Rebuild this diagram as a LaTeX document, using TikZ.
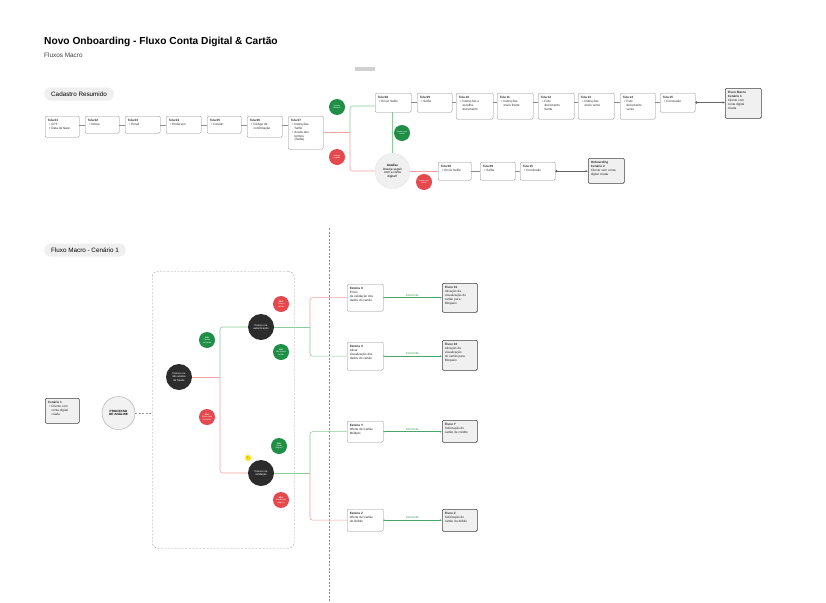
\documentclass[tikz,border=0pt]{standalone}
\usepackage{fontspec}
\setmainfont{Liberation Sans}
\usetikzlibrary{arrows.meta,calc}
\definecolor{gline}{HTML}{8CCB9A}
\definecolor{rline}{HTML}{F3A3A3}
\definecolor{gfill}{HTML}{1E8F45}
\definecolor{rfill}{HTML}{E5484D}
\definecolor{darkc}{HTML}{2C2C2C}
\definecolor{pillg}{HTML}{EFEFEF}
\definecolor{gtext}{HTML}{3A9A55}
\newcommand{\bl}{\hspace*{1.6pt}\textbullet\hspace{1pt}}
\newcommand{\ct}{\hspace*{3.7pt}}
\tikzset{
 scrbox/.style={draw=black!45, fill=white, rounded corners=1.2pt, line width=0.35pt, inner sep=0},
 endbox/.style={draw=black!75, fill=black!6, rounded corners=1.2pt, line width=0.55pt, inner sep=0},
 scrtxt/.style={font=\fontsize{3.1}{3.8}\selectfont, align=left, inner sep=0, text=black!85},
 conn/.style={draw=black!45, line width=0.35pt},
 gconn/.style={draw=gline, line width=0.6pt, rounded corners=2.5pt},
 rconn/.style={draw=rline, line width=0.6pt, rounded corners=2.5pt},
 garrow/.style={draw=gfill!80, line width=0.5pt, {Circle[length=1.4pt]}-{Latex[length=2.2pt,width=2pt]}},
 thickarrow/.style={draw=black!60, line width=1pt, {Circle[open,length=2.2pt]}-{Latex[length=2.5pt,width=2.5pt]}},
 lab/.style={circle, minimum size=16pt, inner sep=0, text=white, align=center, font=\fontsize{2}{2.4}\selectfont},
 glab/.style={lab, fill=gfill},
 rlab/.style={lab, fill=rfill},
 dcirc/.style={circle, fill=darkc, minimum size=26pt, inner sep=0, text=white, align=center, font=\fontsize{2.7}{3.2}\selectfont},
 pillnode/.style={fill=pillg, rounded corners=6.5pt, font=\fontsize{6.3}{7}\selectfont, inner xsep=7pt, minimum height=13pt, anchor=west},
 elab/.style={font=\fontsize{2.7}{3}\selectfont, text=gtext, above, inner sep=1pt},
}
% name, x, y, w, h, text ; optional style
\newcommand{\scr}[7][scrbox]{%
 \node[#1, minimum width=#5pt, minimum height=#6pt, anchor=north west] (#2) at (#3,#4) {};
 \node[scrtxt, anchor=north west] at ([shift={(2.6pt,-2.8pt)}]#2.north west) {#7};}
\begin{document}
\begin{tikzpicture}[x=1pt,y=-1pt]
\fill[white] (0,0) rectangle (826,602);
\useasboundingbox (0,0) rectangle (826,602);

% header
\node[anchor=west, inner sep=0, font=\fontsize{10.2}{12}\selectfont\bfseries] (title) at (44,42) {Novo Onboarding - Fluxo Conta Digital \& Cartão};
\node[anchor=west, inner sep=0, font=\fontsize{6.4}{7.5}\selectfont, text=black!75] (subtitle) at (44,55) {Fluxos Macro};
\node[fill=black!18, minimum width=20pt, minimum height=3.5pt, inner sep=0] (bar) at (365,69) {};

% ---------- Cadastro resumido ----------
\node[pillnode] (pill1) at (44,94) {Cadastro Resumido};

\scr{t01}{45}{116}{34}{21}{\textbf{Tela 01}\\[0.6pt]\bl CPF\\\bl Data de Nasc.}
\scr{t02}{85}{116}{34}{17}{\textbf{Tela 02}\\[0.6pt]\bl Nome}
\scr{t03}{125}{116}{35}{17}{\textbf{Tela 03}\\[0.6pt]\bl Email}
\scr{t04}{166}{116}{35}{17}{\textbf{Tela 04}\\[0.6pt]\bl Endereço}
\scr{t05}{207}{116}{34}{17}{\textbf{Tela 05}\\[0.6pt]\bl Celular}
\scr{t06}{247}{116}{35}{21}{\textbf{Tela 06}\\[0.6pt]\bl Código de\\\ct confirmação}
\scr{t07}{288}{116}{35}{33}{\textbf{Tela 07}\\[0.6pt]\bl Instruções\\\ct Selfie\\\bl Aceite dos\\\ct termos\\\ct (Selfie)}
\foreach \a/\b in {t01/t02,t02/t03,t03/t04,t04/t05,t05/t06,t06/t07}
  \draw[conn] ([yshift=-9pt]\a.north east) -- ([yshift=-9pt]\b.north west);

% top row after selfie
\scr{t08}{375}{93}{36}{19}{\textbf{Tela 08}\\[0.6pt]\bl Envio Selfie}
\scr{t09}{417}{93}{35}{19}{\textbf{Tela 09}\\[0.6pt]\bl Selfie}
\scr{t10}{456}{93}{37}{26}{\textbf{Tela 10}\\[0.6pt]\bl Instruções e\\\ct escolha\\\ct documento}
\scr{t11}{497}{93}{36}{26}{\textbf{Tela 11}\\[0.6pt]\bl Instruções\\\ct envio frente}
\scr{t12}{538}{93}{36}{26}{\textbf{Tela 12}\\[0.6pt]\bl Foto\\\ct documento\\\ct frente}
\scr{t13}{578}{93}{36}{26}{\textbf{Tela 13}\\[0.6pt]\bl Instruções\\\ct envio verso}
\scr{t14}{620}{93}{35}{26}{\textbf{Tela 14}\\[0.6pt]\bl Foto\\\ct documento\\\ct verso}
\scr{t15}{660}{93}{35}{19}{\textbf{Tela 15}\\[0.6pt]\bl Conclusão}
\foreach \a/\b in {t08/t09,t09/t10,t10/t11,t11/t12,t12/t13,t13/t14,t14/t15}
  \draw[conn] ([yshift=-9.5pt]\a.north east) -- ([yshift=-9.5pt]\b.north west);
\scr[endbox]{fm1}{725}{88}{36}{30}{\textbf{Fluxo Macro}\\\textbf{Cenário 1}\\[1pt]Cliente com\\conta digital\\criada}
\coordinate (a15) at ([yshift=-9.5pt]t15.north east);
\draw[thickarrow] (a15) -- (a15 -| fm1.west);

% branch after Tela 07
\node[circle, fill=black!6, draw=black!12, line width=0.3pt, minimum size=35pt, inner sep=0, align=center, font=\fontsize{3.1}{3.7}\selectfont] (ana) at (392.5,171) {\textbf{Análise}\\[0.5pt]Deseja seguir\\com a conta\\digital?};
\coordinate (jb) at (350,132);
\coordinate (o07) at ([yshift=-16pt]t07.north east);
\coordinate (i08) at ([yshift=-13pt]t08.north west);
\draw[rconn] (o07) -- (jb);
\draw[gconn] (jb) |- (i08);
\draw[rconn] (jb) |- (ana.west);
\draw[gconn] (ana.north) -- (ana.north |- t08.south);

\scr{b08}{438}{162}{33}{18}{\textbf{Tela 08}\\[0.6pt]\bl Envio Selfie}
\scr{b09}{480}{162}{35}{18}{\textbf{Tela 09}\\[0.6pt]\bl Selfie}
\scr{b15}{520}{162}{35}{18}{\textbf{Tela 15}\\[0.6pt]\bl Conclusão}
\draw[rconn] (ana.east) -- (ana.east -| b08.west);
\draw[conn] (b08.east) -- (b09.west);
\draw[conn] (b09.east) -- (b15.west);
\scr[endbox]{oc2}{588}{158}{36}{25}{\textbf{Onboarding}\\\textbf{Cenário 2}\\[1pt]Cliente sem conta\\digital criada}
\draw[thickarrow] (b15.east) -- (b15.east -| oc2.west);

\node[glab] (l1) at (337,107) {Acesso\\liberado};
\node[rlab] (l2) at (337,157) {Acesso\\negado};
\node[glab] (l3) at (402,133) {Segue com\\conta};
\node[rlab] (l4) at (424,182) {Segue sem\\conta};

% ---------- Fluxo Macro - Cenario 1 ----------
\coordinate (vtop) at (329,228);
\coordinate (vbot) at (329,602);
\draw[black!45, line width=0.4pt, dash pattern=on 2pt off 1.5pt] (vtop) -- (vbot);

\node[pillnode] (pill2) at (44,250) {Fluxo Macro - Cenário 1};

\scr[endbox]{c1}{45}{398}{34}{25}{\textbf{Cenário 1}\\[0.6pt]\bl Cliente com\\\ct conta digital\\\ct criada}
\node[circle, fill=black!5, draw=black!35, line width=0.4pt, minimum size=33pt, inner sep=0, align=center, font=\fontsize{3.1}{3.7}\selectfont\bfseries] (proc) at (118.5,413) {PROCESSO\\DE ANÁLISE};
\node[draw=black!40, line width=0.4pt, dash pattern=on 2pt off 1.5pt, rounded corners=6pt, minimum width=142pt, minimum height=277pt, inner sep=0, anchor=north west] (dbox) at (152,271) {};
\draw[black!40, line width=0.4pt, dash pattern=on 2pt off 1.5pt] (proc.east) -- (proc.east -| dbox.west);

\node[dcirc] (A) at (179,377) {Passou ou\\não análise\\de fraude};
\node[dcirc] (T) at (261,327) {Passou na\\autenticação};
\node[dcirc] (B) at (261,473) {Passou na\\validação};
\coordinate (j1) at (220,377);
\coordinate (j2) at (310,327);
\coordinate (j3) at (310,473);
\draw[rconn] (A.east) -- (j1);
\draw[gconn] (j1) |- (T.west);
\draw[rconn] (j1) |- (B.west);

\node[glab] (k1) at (207,340) {\textbf{SIM}\\Passou\\na fraude};
\node[rlab] (k2) at (207,417) {\textbf{NÃO}\\Reprovado\\na fraude};
\node[rlab] (k3) at (281,304) {\textbf{NÃO}\\Possui\\cartão};
\node[glab] (k4) at (281,352) {\textbf{SIM}\\Não possui\\cartão};
\node[glab] (k5) at (279,446) {\textbf{SIM}\\Cartão\\elegível};
\node[rlab] (k6) at (281,500) {\textbf{NÃO}\\Cartão não\\elegível};
\node[circle, fill=yellow!85!orange, minimum size=6pt, inner sep=0, font=\fontsize{2.5}{3}\selectfont\bfseries] (warn) at (248,458) {!};

% esteiras
\scr{ex1}{347}{284}{36}{27}{\textbf{Esteira X}\\[0.6pt]Envio\\da validação dos\\dados do cartão}
\scr{ex2}{347}{342}{36}{28}{\textbf{Esteira X}\\[0.6pt]Ativar\\visualização dos\\dados do cartão}
\scr{ey}{347}{421}{36}{21}{\textbf{Esteira Y}\\[0.6pt]Oferta de Cartão\\Múltiplo}
\scr{ez}{347}{509}{36}{22}{\textbf{Esteira Z}\\[0.6pt]Oferta de Cartão\\de Débito}

\draw[gconn] (T.east) -- (j2);
\draw[rconn] (j2) |- (ex1.west);
\draw[gconn] (j2) |- (ex2.west);
\draw[gconn] (B.east) -- (j3);
\draw[gconn] (j3) |- (ey.west);
\draw[rconn] (j3) |- (ez.west);

\scr[endbox]{f1}{442}{283}{35}{29}{\textbf{Fluxo 01}\\[0.6pt]Ativação da\\visualização do\\cartão para\\Bloqueio}
\scr[endbox]{f2}{442}{340}{35}{30}{\textbf{Fluxo 02}\\[0.6pt]Ativação da\\visualização\\do cartão para\\Bloqueio}
\scr[endbox]{fy}{442}{420}{35}{22}{\textbf{Fluxo Y}\\[0.6pt]Solicitação do\\cartão de crédito}
\scr[endbox]{fz}{442}{509}{35}{22}{\textbf{Fluxo Z}\\[0.6pt]Solicitação do\\cartão de débito}

\draw[garrow] (ex1.east) -- node[elab] {ELEGÍVEL} (ex1.east -| f1.west);
\draw[garrow] (ex2.east) -- node[elab] {ELEGÍVEL} (ex2.east -| f2.west);
\draw[garrow] (ey.east) -- node[elab] {ELEGÍVEL} (ey.east -| fy.west);
\draw[garrow] (ez.east) -- node[elab] {ELEGÍVEL} (ez.east -| fz.west);
\end{tikzpicture}
\end{document}
